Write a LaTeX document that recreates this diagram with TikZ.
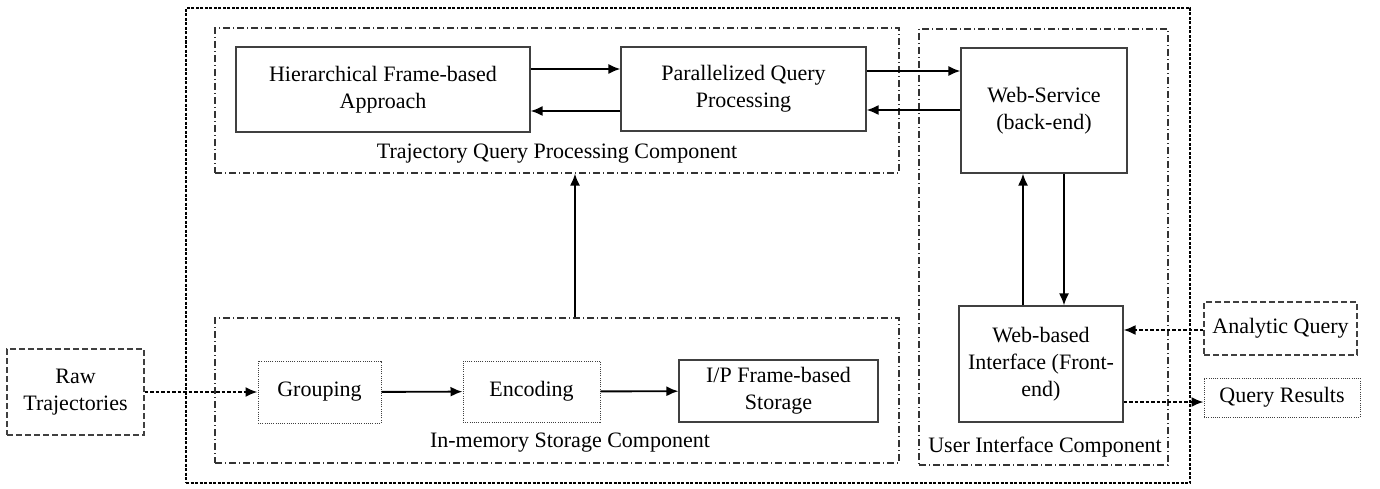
\documentclass[tikz,border=0pt]{standalone}
\usepackage{fontspec}
\setmainfont{Liberation Serif}
\usetikzlibrary{arrows.meta}
\begin{document}
\begin{tikzpicture}[x=1pt,y=-1pt,
  every node/.style={font=\fontsize{22}{27}\selectfont, align=center, inner sep=0pt},
  blk/.style={draw=black!75, line width=1.1pt, rectangle},
  dashblk/.style={blk, dash pattern=on 6pt off 3pt},
  dotblk/.style={blk, line width=1pt, dash pattern=on 1pt off 1.2pt},
  comp/.style={draw=black!80, line width=1.1pt, rectangle, dash pattern=on 7pt off 3pt on 1pt off 3pt},
  outerbox/.style={draw=black, line width=1.8pt, rectangle, dash pattern=on 3pt off 1.5pt},
  arr/.style={draw=black, line width=1.9pt, -{Latex[length=12pt,width=10pt]}},
  darr/.style={arr, dash pattern=on 3.5pt off 2pt},
]
\useasboundingbox (0,0) rectangle (1380,489);

% grouping frames
\node[outerbox, minimum width=1004pt, minimum height=475pt] (outer) at (688,245.5) {};
\node[comp, minimum width=684pt, minimum height=145pt] (tqp) at (557,100.5) {};
\node[comp, minimum width=684pt, minimum height=145pt] (ims) at (557,390.5) {};
\node[comp, minimum width=249pt, minimum height=436pt] (ui) at (1043.5,247) {};

\node (tqplab) at (557,154) {Trajectory Query Processing Component};
\node (imslab) at (570,443) {In-memory Storage Component};
\node (uilab) at (1045,447) {User Interface Component};

% processing blocks
\node[blk, minimum width=294pt, minimum height=85pt] (hier) at (383,89.5) {Hierarchical Frame-based\\Approach};
\node[blk, minimum width=245pt, minimum height=84pt] (par) at (743.5,89) {Parallelized Query\\Processing};
\node[blk, minimum width=166pt, minimum height=125pt] (ws) at (1044,110.5) {Web-Service\\(back-end)};
\node[blk, minimum width=164pt, minimum height=116pt] (wi) at (1041,364) {Web-based\\Interface (Front-\\end)};

% storage blocks
\node[dotblk, minimum width=123pt, minimum height=62pt] (grp) at (319.5,392) {Grouping};
\node[dotblk, minimum width=137pt, minimum height=61pt] (enc) at (531.5,391.5) {Encoding};
\node[blk, minimum width=199pt, minimum height=62pt] (ipf) at (778.5,391) {I/P Frame-based\\Storage};

% external blocks
\node[dashblk, minimum width=137pt, minimum height=86pt] (raw) at (75.5,392) {Raw\\Trajectories};
\node[dashblk, minimum width=153pt, minimum height=53pt] (aq) at (1280.5,328.5) {Analytic Query};
\node[dotblk, minimum width=156pt, minimum height=39pt] (qr) at (1282,397.5) {Query Results};

% anchor points for the connectors
\coordinate (h1) at ([yshift=20.5pt]hier.east);
\coordinate (h2) at ([yshift=-21.5pt]hier.east);
\coordinate (p1) at ([yshift=18pt]par.east);
\coordinate (p2) at ([yshift=-21pt]par.east);
\coordinate (up) at ([xshift=-21pt]ws.south);
\coordinate (dn) at ([xshift=20pt]ws.south);
\coordinate (vin) at ([xshift=18pt]ims.north);
\coordinate (aqy) at ([yshift=-1.5pt]aq.west);
\coordinate (qry) at ([yshift=-38pt]wi.east);

\draw[arr] (h1) -- (h1 -| par.west);
\draw[arr] (h2 -| par.west) -- (h2);
\draw[arr] (p1) -- (p1 -| ws.west);
\draw[arr] (p2 -| ws.west) -- (p2);
\draw[arr] (up |- wi.north) -- (up);
\draw[arr] (dn) -- (dn |- wi.north);
\draw[arr] (vin) -- (vin |- tqp.south);
\draw[arr] (grp) -- (enc);
\draw[arr] (enc) -- (ipf);
\draw[darr] (raw.east) -- (grp.west);
\draw[darr] (aqy) -- (aqy -| wi.east);
\draw[darr] (qry) -- (qry -| qr.west);
\end{tikzpicture}
\end{document}
